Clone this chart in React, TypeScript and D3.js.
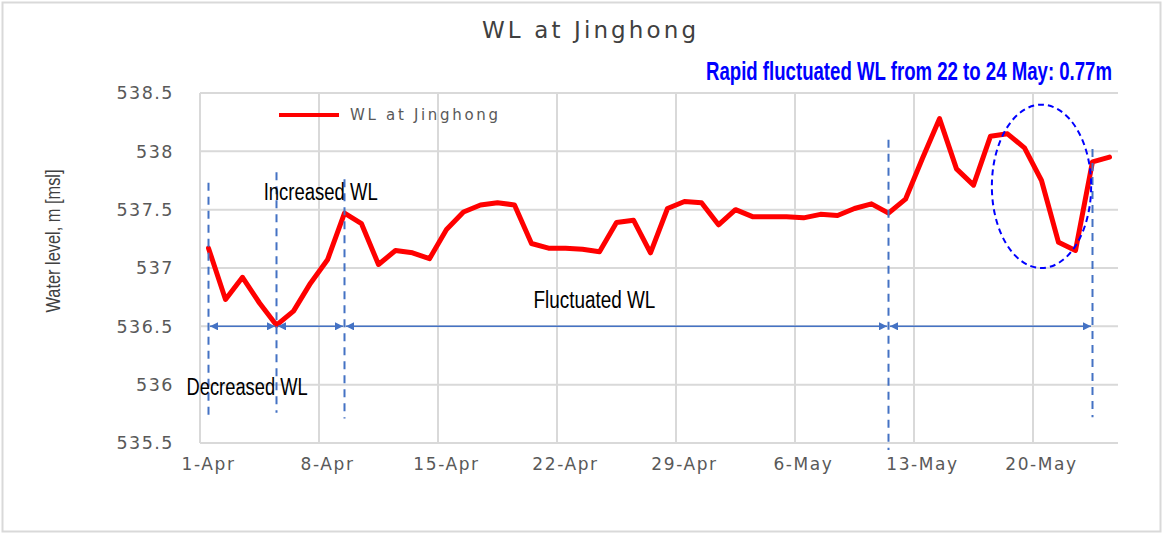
import * as d3 from 'd3';

// daily water level at Jinghong, 1-Apr .. 24-May
const wlValues = [
  537.17, 536.73, 536.92, 536.7, 536.51, 536.63, 536.87, 537.07, 537.47, 537.38,
  537.03, 537.15, 537.13, 537.08, 537.33, 537.48, 537.54, 537.56, 537.54, 537.21,
  537.17, 537.17, 537.16, 537.14, 537.39, 537.41, 537.13, 537.51, 537.57, 537.56,
  537.37, 537.5, 537.44, 537.44, 537.44, 537.43, 537.46, 537.45, 537.51, 537.55,
  537.47, 537.59, 537.94, 538.28, 537.85, 537.71, 538.13, 538.15, 538.03, 537.75,
  537.22, 537.15, 537.91, 537.95,
];
const yTicks = [535.5, 536, 536.5, 537, 537.5, 538, 538.5];
const xTickDays = [0, 7, 14, 21, 28, 35, 42, 49];
const xTickLabels = ['1-Apr', '8-Apr', '15-Apr', '22-Apr', '29-Apr', '6-May', '13-May', '20-May'];

// annotations (day index, water level)
const phaseBreaks = [
  { day: 0, top: 537.73, bottom: 535.72 },
  { day: 4, top: 537.82, bottom: 535.76 },
  { day: 8, top: 537.76, bottom: 535.71 },
  { day: 40, top: 538.1, bottom: 535.44 },
  { day: 52, top: 538.02, bottom: 535.72 },
];
const phaseArrows = [[0, 4], [4, 8], [8, 40], [40, 52]];
const arrowLevel = 536.5;
const phaseLabels = [
  { text: 'Decreased WL', day: 2.27, value: 535.91, len: 121 },
  { text: 'Increased WL', day: 6.6, value: 537.58, len: 114 },
  { text: 'Fluctuated WL', day: 22.7, value: 536.66, len: 122 },
];
const rapidZone = { day: 49, value: 537.7, rxDays: 2.92, ryValue: 0.7 };

const W = 1166;
const H = 534;
const m = { left: 200, right: 1118, top: 93, bottom: 443 };

export default function App() {
  const x = d3.scaleLinear().domain([-0.5, wlValues.length - 0.5]).range([m.left, m.right]);
  const y = d3.scaleLinear().domain([535.5, 538.5]).range([m.bottom, m.top]);

  const line = d3.line<number>()
    .x((_, i) => x(i))
    .y(d => y(d));

  const grid = '#d9d9d9';
  const blue = '#4472c4';
  const narrow = '"Liberation Sans Narrow", "Liberation Sans", Arial, sans-serif';
  const wide = '"DejaVu Sans", Verdana, sans-serif';

  return (
    <svg width={W} height={H} style={{ position: 'fixed', left: 0, top: 0, background: '#fff' }}>
      <defs>
        <marker id="arr" viewBox="0 0 10 10" refX="10" refY="5" markerWidth="9" markerHeight="8"
          markerUnits="userSpaceOnUse" orient="auto-start-reverse">
          <path d="M0,0 L10,5 L0,10 z" fill={blue} />
        </marker>
      </defs>
      <rect x={2.5} y={2.5} width={1158} height={529} fill="#fff" stroke={grid} strokeWidth={2} />

      <text x={589} y={38} textAnchor="middle" fontFamily={wide} fontSize={23} fill="#404040"
        textLength={214} lengthAdjust="spacing">WL at Jinghong</text>

      {/* gridlines */}
      {yTicks.map(t => (
        <line key={t} x1={m.left} x2={m.right} y1={y(t)} y2={y(t)} stroke={grid} strokeWidth={2} />
      ))}
      {xTickDays.map(d => (
        <line key={d} x1={x(d - 0.5)} x2={x(d - 0.5)} y1={m.top} y2={m.bottom} stroke={grid} strokeWidth={2} />
      ))}

      {/* axis labels */}
      {yTicks.map(t => (
        <text key={t} x={174} y={y(t)} dy="0.36em" textAnchor="end" fontFamily={wide} fontSize={17.5}
          letterSpacing={1.5} fill="#595959">{d3.format('')(t)}</text>
      ))}
      {xTickDays.map((d, i) => (
        <text key={d} x={x(d)} y={470} textAnchor="middle" fontFamily={wide} fontSize={17}
          letterSpacing={1.6} fill="#595959">{xTickLabels[i]}</text>
      ))}
      <text transform={`translate(60,${241}) rotate(-90)`} textAnchor="middle" fontFamily={narrow}
        fontSize={21} fill="#404040" textLength={143} lengthAdjust="spacingAndGlyphs">Water level, m [msl]</text>

      {/* legend */}
      <line x1={279} x2={339} y1={115} y2={115} stroke="#ff0000" strokeWidth={4} />
      <text x={350} y={115} dy="0.35em" fontFamily={wide} fontSize={15} fill="#595959"
        textLength={148} lengthAdjust="spacing">WL at Jinghong</text>

      {/* series */}
      <path d={line(wlValues) || ''} fill="none" stroke="#ff0000" strokeWidth={5}
        strokeLinejoin="round" strokeLinecap="round" />

      {/* phase annotations */}
      {phaseBreaks.map(b => (
        <line key={b.day} x1={x(b.day)} x2={x(b.day)} y1={y(b.top)} y2={y(b.bottom)} stroke={blue}
          strokeWidth={2} strokeDasharray="8 6" />
      ))}
      {phaseArrows.map(([a, b]) => (
        <line key={a} x1={x(a) + 1.5} x2={x(b) - 1.5} y1={y(arrowLevel)} y2={y(arrowLevel)} stroke={blue}
          strokeWidth={1.5} markerStart="url(#arr)" markerEnd="url(#arr)" />
      ))}
      {phaseLabels.map(l => (
        <text key={l.text} x={x(l.day)} y={y(l.value)} textAnchor="middle" fontFamily={narrow} fontSize={23}
          fill="#000" textLength={l.len} lengthAdjust="spacingAndGlyphs">{l.text}</text>
      ))}
      <ellipse cx={x(rapidZone.day)} cy={y(rapidZone.value)}
        rx={x(rapidZone.day + rapidZone.rxDays) - x(rapidZone.day)}
        ry={y(rapidZone.value - rapidZone.ryValue) - y(rapidZone.value)}
        fill="none" stroke="#0000ff" strokeWidth={2} strokeDasharray="6 4" />
      <text transform="translate(1112,80) scale(1,1.4)" textAnchor="end" fontFamily={narrow} fontWeight="bold"
        fontSize={18} fill="#0000ff" textLength={406} lengthAdjust="spacingAndGlyphs">
        Rapid fluctuated WL from 22 to 24 May: 0.77m
      </text>
    </svg>
  );
}
